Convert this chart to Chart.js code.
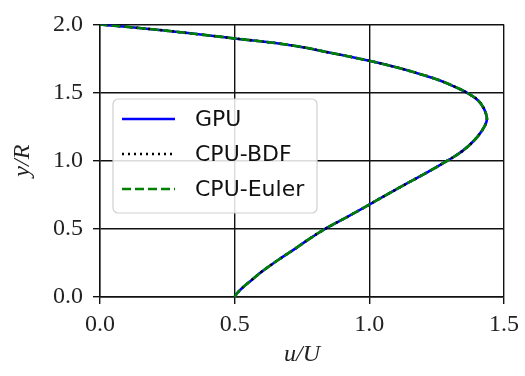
<!DOCTYPE html>
<html>
<head>
<meta charset="utf-8">
<script src="https://cdn.jsdelivr.net/npm/chart.js@4"></script>
<style>
  html, body { margin: 0; padding: 0; background: #fff; }
  #wrap { width: 525px; height: 376px; }
</style>
</head>
<body>
<div id="wrap"><canvas id="chart" width="525" height="376"></canvas></div>
<script>
// velocity profile (u/U against y/R)
const uValues = [0.50, 0.51, 0.53, 0.56, 0.60, 0.66, 0.725, 0.78, 0.836, 0.92,
  1.00, 1.07, 1.143, 1.22, 1.29, 1.345, 1.39, 1.418, 1.434, 1.436,
  1.426, 1.405, 1.37, 1.32, 1.26, 1.19, 1.10, 1.00, 0.86, 0.72,
  0.50, 0.23, 0.00];
const yValues = [0.00, 0.03, 0.07, 0.12, 0.185, 0.27, 0.355, 0.43, 0.50, 0.59,
  0.678, 0.757, 0.837, 0.92, 1.00, 1.07, 1.15, 1.22, 1.28, 1.32,
  1.38, 1.44, 1.49, 1.54, 1.59, 1.635, 1.685, 1.733, 1.79, 1.844,
  1.897, 1.957, 2.00];
const seriesNames = ['GPU', 'CPU-BDF', 'CPU-Euler'];
const xTicks = [0.0, 0.5, 1.0, 1.5];
const yTicks = [0.0, 0.5, 1.0, 1.5, 2.0];

const mkPts = () => uValues.map((u, i) => ({x: u, y: yValues[i]}));
const serif = '"Liberation Serif", "DejaVu Serif", serif';
const sans = '"DejaVu Sans", "Liberation Sans", sans-serif';

// legend drawn by hand so the line styles show like in the figure
const lineLegend = {
  id: 'lineLegend',
  afterDatasetsDraw(chart) {
    const ctx = chart.ctx;
    const bx = 113, by = 99, bw = 204, bh = 114;
    ctx.save();
    ctx.beginPath();
    ctx.roundRect(bx, by, bw, bh, 5);
    ctx.fillStyle = 'rgba(255,255,255,0.85)';
    ctx.fill();
    ctx.strokeStyle = '#d0d0d0';
    ctx.lineWidth = 1.2;
    ctx.stroke();
    chart.data.datasets.forEach((ds, i) => {
      const y = by + 20 + i * 35;
      ctx.beginPath();
      ctx.setLineDash(ds.borderDash || []);
      ctx.strokeStyle = ds.borderColor;
      ctx.lineWidth = ds.borderWidth;
      ctx.moveTo(122, y);
      ctx.lineTo(175, y);
      ctx.stroke();
      ctx.setLineDash([]);
      ctx.fillStyle = '#111';
      ctx.font = '22px ' + sans;
      ctx.textBaseline = 'middle';
      ctx.fillText(ds.label, 195, y + 1);
    });
    ctx.restore();
  }
};

new Chart(document.getElementById('chart'), {
  type: 'scatter',
  data: {
    datasets: [
      { label: seriesNames[0], data: mkPts(), showLine: true, borderColor: '#0000ff',
        borderWidth: 2.6, pointRadius: 0, tension: 0.4, order: 3 },
      { label: seriesNames[1], data: mkPts(), showLine: true, borderColor: '#000000',
        borderWidth: 2.6, borderDash: [2, 4], pointRadius: 0, tension: 0.4, order: 2 },
      { label: seriesNames[2], data: mkPts(), showLine: true, borderColor: '#008000',
        borderWidth: 2.6, borderDash: [9, 4], pointRadius: 0, tension: 0.4, order: 1 }
    ]
  },
  options: {
    responsive: false,
    animation: false,
    layout: { padding: { top: 14, right: 18, left: 0, bottom: 0 } },
    plugins: { legend: { display: false }, tooltip: { enabled: false } },
    scales: {
      x: {
        type: 'linear', min: 0, max: 1.5,
        afterBuildTicks: (s) => { s.ticks = xTicks.map(v => ({value: v})); },
        afterFit: (s) => { s.height = 79; },
        ticks: { color: '#222', padding: 6, font: { family: serif, size: 24 },
          callback: (v) => v.toFixed(1) },
        grid: { color: '#111', lineWidth: 1.4, tickLength: 7, tickColor: '#111' },
        border: { color: '#111', width: 1.4 },
        title: { display: true, text: 'u/U', color: '#222', padding: { top: 0, bottom: 7 },
          font: { family: serif, size: 24, style: 'italic' } }
      },
      y: {
        type: 'linear', min: 0, max: 2,
        afterBuildTicks: (s) => { s.ticks = yTicks.map(v => ({value: v})); },
        afterFit: (s) => { s.width = 100; },
        ticks: { color: '#222', padding: 10, font: { family: serif, size: 24 },
          callback: (v) => v.toFixed(1) },
        grid: { color: '#111', lineWidth: 1.4, tickLength: 7, tickColor: '#111' },
        border: { color: '#111', width: 1.4 },
        title: { display: true, text: 'y/R', color: '#222', padding: { top: 8, bottom: 0 },
          font: { family: serif, size: 24, style: 'italic' } }
      }
    }
  },
  plugins: [lineLegend]
});
</script>
</body>
</html>
